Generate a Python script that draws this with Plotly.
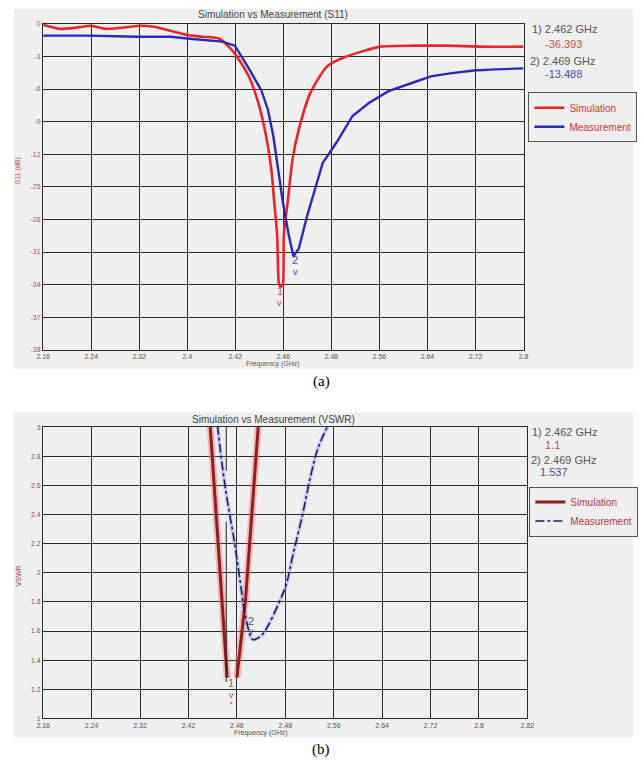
import plotly.graph_objects as go

W, H = 643, 765

# ---------------- data (a) S11 ----------------
# x positions in grid units (0..10), y in axis units (gridline every 3)
s11_x_ticks = ["2.16", "2.24", "2.32", "2.4", "2.42", "2.46", "2.48", "2.56", "2.64", "2.72", "2.8"]
s11_y_ticks = ["0", "-3", "-6", "-9", "-12", "-25", "-28", "-31", "-34", "-37", "-38"]

sim_s11_x = [0, 0.33, 0.67, 1.0, 1.28, 1.63, 2.04, 2.30, 2.65, 2.97, 3.32, 3.67, 3.99, 4.28, 4.48,
             4.64, 4.75, 4.81, 4.87, 4.89, 4.91, 4.95, 4.99, 5.01, 5.09, 5.19, 5.32, 5.56, 5.91,
             6.31, 7.03, 7.74, 8.41, 9.08, 10.0]
sim_s11_y = [-0.09, -0.46, -0.36, -0.18, -0.46, -0.36, -0.18, -0.27, -0.64, -1.0, -1.19, -1.37, -2.74,
             -4.83, -7.29, -10.3, -13.4, -16.4, -19.4, -22.5, -24.0, -24.2, -24.0, -19.4, -16.4,
             -12.5, -9.76, -6.38, -3.92, -3.01, -2.10, -2.01, -2.01, -2.10, -2.10]

meas_s11_x = [0, 0.94, 1.96, 2.65, 3.05, 3.46, 3.73, 3.99, 4.28, 4.54, 4.68, 4.79, 4.89, 4.99, 5.11,
              5.21, 5.32, 5.50, 5.66, 5.82, 6.11, 6.44, 6.78, 7.19, 7.66, 8.07, 8.47, 8.96, 9.43, 10.0]
meas_s11_y = [-1.09, -1.09, -1.19, -1.19, -1.37, -1.55, -1.64, -2.01, -4.10, -6.11, -7.93, -10.3, -13.4,
              -16.4, -19.4, -21.4, -20.7, -17.6, -15.2, -12.8, -10.9, -8.48, -7.29, -6.20, -5.47,
              -4.83, -4.56, -4.29, -4.19, -4.10]

# ---------------- data (b) VSWR ----------------
vswr_x_ticks = ["2.16", "2.24", "2.32", "2.42", "2.46", "2.48", "2.56", "2.64", "2.72", "2.8", "2.82"]
vswr_y_vals = [1, 1.2, 1.4, 1.6, 1.8, 2, 2.2, 2.4, 2.6, 2.8, 3]

sim_vswr_x = [3.45, 3.80, None, 4.00, 4.14, 4.18, 4.44]
sim_vswr_y = [3.0, 1.28, None, 1.28, 1.70, 1.82, 3.0]

meas_vswr_x = [3.60, 3.70, 3.80, 3.94, 4.06, 4.16, 4.30, 4.34, 4.51, 4.65, 4.85, 5.01, 5.17,
               5.35, 5.52, 5.68, 5.88]
meas_vswr_y = [3.01, 2.73, 2.50, 2.23, 1.96, 1.73, 1.55, 1.54, 1.57, 1.64, 1.78, 1.91, 2.14,
               2.39, 2.66, 2.86, 3.01]

marker_freqs = ["1) 2.462 GHz", "2) 2.469 GHz"]
s11_marker_vals = ["-36.393", "-13.488"]
vswr_marker_vals = ["1.1", "1.537"]

RED = "#e8262a"
BLUE = "#2a2ab8"
DRED = "#8c1f1f"
NAVY = "#1c1c5c"
BG = "#efefef"
FONT = "Liberation Sans"


def px(x):
    return x / W


def py(y):
    return 1 - y / H


fig = go.Figure()

# (a)
fig.add_trace(go.Scatter(x=sim_s11_x, y=sim_s11_y, mode="lines", name="Simulation",
                         line=dict(color=RED, width=2.6, shape="spline", smoothing=0.6),
                         xaxis="x", yaxis="y", legend="legend"))
fig.add_trace(go.Scatter(x=meas_s11_x, y=meas_s11_y, mode="lines", name="Measurement",
                         line=dict(color=BLUE, width=2.4),
                         xaxis="x", yaxis="y", legend="legend"))

# (b) halos
fig.add_trace(go.Scatter(x=sim_vswr_x, y=sim_vswr_y, mode="lines", showlegend=False,
                         line=dict(color="rgba(255,110,110,0.45)", width=7),
                         xaxis="x2", yaxis="y2", hoverinfo="skip"))
fig.add_trace(go.Scatter(x=meas_vswr_x, y=meas_vswr_y, mode="lines", showlegend=False,
                         line=dict(color="rgba(120,120,255,0.3)", width=4, shape="spline"),
                         xaxis="x2", yaxis="y2", hoverinfo="skip"))
fig.add_trace(go.Scatter(x=sim_vswr_x, y=sim_vswr_y, mode="lines", name="Simulation",
                         line=dict(color=DRED, width=3),
                         xaxis="x2", yaxis="y2", legend="legend2"))
fig.add_trace(go.Scatter(x=meas_vswr_x, y=meas_vswr_y, mode="lines", name="Measurement",
                         line=dict(color=NAVY, width=1.6, dash="dashdot", shape="spline"),
                         xaxis="x2", yaxis="y2", legend="legend2"))

grid = dict(showgrid=True, gridcolor="#2b2b2b", gridwidth=1.3, zeroline=False,
            showline=True, linecolor="#2b2b2b", linewidth=1.3, mirror=True, ticks="",
            fixedrange=True)

fig.update_layout(
    width=W, height=H, autosize=False,
    margin=dict(l=0, r=0, t=0, b=0),
    paper_bgcolor="white", plot_bgcolor=BG,
    font=dict(family=FONT, size=8, color="#555"),
    xaxis=dict(domain=[px(37), px(528)], anchor="y", range=[0, 10],
               tickvals=list(range(11)), ticktext=s11_x_ticks,
               tickfont=dict(size=7, color="#555"), **grid),
    yaxis=dict(domain=[py(349), py(20)], anchor="x", range=[-30, 0],
               tickvals=[-3 * i for i in range(11)], ticktext=s11_y_ticks,
               tickfont=dict(size=7, color="#c84848"), **grid),
    xaxis2=dict(domain=[px(37), px(532)], anchor="y2", range=[0, 10],
                tickvals=list(range(11)), ticktext=vswr_x_ticks,
                tickfont=dict(size=7, color="#555"), **grid),
    yaxis2=dict(domain=[py(721), py(427)], anchor="x2", range=[1, 3],
                tickvals=vswr_y_vals, ticktext=[("%g" % v) for v in vswr_y_vals],
                tickfont=dict(size=7, color="#a04848"), **grid),
    legend=dict(x=px(533), y=py(89), xanchor="left", yanchor="top",
                bgcolor=BG, bordercolor="#555", borderwidth=1,
                font=dict(family=FONT, size=10, color="#d03838"),
                itemwidth=30, tracegroupgap=0),
    legend2=dict(x=px(534), y=py(487), xanchor="left", yanchor="top",
                 bgcolor=BG, bordercolor="#555", borderwidth=1,
                 font=dict(family=FONT, size=10, color="#b04040"),
                 itemwidth=30, tracegroupgap=0),
    showlegend=True,
)

shapes = [
    dict(type="rect", xref="paper", yref="paper", x0=px(7), x1=px(640), y0=py(368), y1=py(5),
         fillcolor=BG, line=dict(width=0), layer="below"),
    dict(type="rect", xref="paper", yref="paper", x0=px(7), x1=px(640), y0=py(740), y1=py(412),
         fillcolor=BG, line=dict(width=0), layer="below"),
    # thin vertical marker line in (b)
    dict(type="line", xref="x2", yref="y2", x0=3.78, x1=3.78, y0=3.0, y1=2.70,
         line=dict(color="#222", width=1)),
    dict(type="line", xref="x2", yref="y2", x0=3.78, x1=3.78, y0=2.35, y1=1.25,
         line=dict(color="#222", width=1)),
]
fig.update_layout(shapes=shapes)

ann = []


def txt(x, y, t, size=10, color="#444", xanchor="center", xref="paper", yref="paper", font=FONT, angle=0):
    ann.append(dict(x=x, y=y, xref=xref, yref=yref, text=t, showarrow=False,
                    xanchor=xanchor, yanchor="middle", textangle=angle,
                    font=dict(family=font, size=size, color=color)))


# titles
txt(px(272), py(11), "Simulation vs Measurement (S11)", size=10, color="#444")
txt(px(272), py(419), "Simulation vs Measurement (VSWR)", size=10, color="#444")
# axis labels
txt(px(272), py(363), "Frequency (GHz)", size=7, color="#555")
txt(px(260), py(736), "Frequency (GHz)", size=7, color="#555")
txt(px(12), py(168), "S11 (dB)", size=7, color="#c84848", angle=-90)
txt(px(12), py(577), "VSWR", size=7, color="#a04848", angle=-90)
# marker readouts (a)
txt(px(535), py(25), marker_freqs[0], size=11, color="#555", xanchor="left")
txt(px(548), py(40), s11_marker_vals[0], size=11, color="#d04848", xanchor="left")
txt(px(533), py(58), marker_freqs[1], size=11, color="#555", xanchor="left")
txt(px(548), py(71), s11_marker_vals[1], size=11, color="#4848c0", xanchor="left")
# marker readouts (b)
txt(px(535), py(432), marker_freqs[0], size=11, color="#555", xanchor="left")
txt(px(548), py(445), vswr_marker_vals[0], size=11, color="#c05050", xanchor="left")
txt(px(534), py(460), marker_freqs[1], size=11, color="#555", xanchor="left")
txt(px(543), py(472), vswr_marker_vals[1], size=11, color="#505080", xanchor="left")
# in-plot markers (a)
txt(4.93, -24.6, "1", size=11, color="#d04848", xref="x", yref="y")
txt(4.93, -25.7, "v", size=9, color="#d04848", xref="x", yref="y")
txt(5.25, -21.7, "2", size=11, color="#4848c0", xref="x", yref="y")
txt(5.25, -22.8, "v", size=9, color="#4848c0", xref="x", yref="y")
# in-plot markers (b)
txt(3.88, 1.24, "1", size=11, color="#c05050", xref="x2", yref="y2")
txt(3.88, 1.16, "v", size=9, color="#c05050", xref="x2", yref="y2")
txt(3.88, 1.11, "\u25aa", size=7, color="#c05050", xref="x2", yref="y2")
txt(4.30, 1.67, "2", size=11, color="#555", xref="x2", yref="y2")
txt(4.30, 1.60, "v", size=9, color="#555", xref="x2", yref="y2")
# captions
txt(px(321), py(381), "(a)", size=15, color="#000", font="Liberation Serif")
txt(px(321), py(752), "(b)", size=15, color="#000", font="Liberation Serif")

fig.update_layout(annotations=ann)

fig.write_html("out.html")
